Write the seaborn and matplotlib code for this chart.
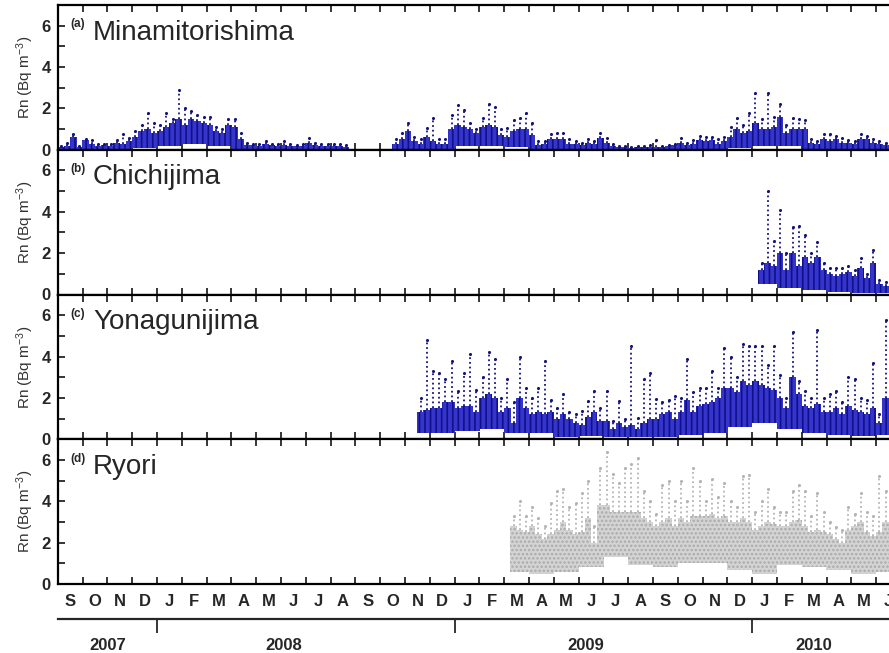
import numpy as np
import pandas as pd
import matplotlib
matplotlib.use("Agg")
import matplotlib.pyplot as plt
import seaborn as sns

nan = np.nan

# x axis: months since Sep 2007 (0 = Sep 2007)
month_letters = list("SONDJFMAMJJASONDJFMAMJJASONDJFMAMJ")
year_labels = ["2007", "2008", "2009", "2010"]
year_breaks = [4, 16, 28]

# Each station: first month index, quarter-month values of the dense band top (hi)
# and the highest scattered points (peak), plus monthly band bottom (lo). Bq m-3
mina_start = 0
mina_hi = [0.15, 0.2, 0.6, 0.15,  0.45, 0.3, 0.2, 0.25,  0.2, 0.35, 0.3, 0.4,  0.6, 0.9, 1.0, 0.8,
           0.9, 1.1, 1.3, 1.5,  1.2, 1.5, 1.4, 1.3,  1.2, 0.9, 0.8, 1.2,  1.1, 0.5, 0.25, 0.25,
           0.2, 0.3, 0.25, 0.2,  0.25, 0.2, 0.2, 0.2,  0.35, 0.25, 0.2, 0.2,  0.2, 0.2, 0.15, nan,
           nan, nan, nan, nan,  nan, nan, 0.3, 0.5,  0.9, 0.4, 0.3, 0.6,  0.4, 0.3, 0.3, 1.0,
           1.2, 1.1, 1.0, 0.8,  1.1, 1.2, 1.1, 0.7,  0.6, 0.9, 1.0, 1.0,  0.7, 0.25, 0.3, 0.5,
           0.5, 0.5, 0.3, 0.3,  0.25, 0.35, 0.3, 0.55,  0.35, 0.2, 0.15, 0.12,  0.1, 0.12, 0.15, 0.15,
           0.15, 0.15, 0.2, 0.25,  0.35, 0.25, 0.3, 0.45,  0.4, 0.45, 0.3, 0.4,  0.6, 1.0, 0.8, 0.9,
           1.3, 1.0, 1.0, 1.1,  1.6, 0.8, 1.0, 1.0,  1.0, 0.35, 0.3, 0.5,  0.4, 0.5, 0.35, 0.35,
           0.3, 0.5, 0.5, 0.35,  0.3, 0.25]
mina_peak = [0.2, 0.35, 0.75, 0.2,  0.5, 0.45, 0.3, 0.3,  0.3, 0.45, 0.75, 0.55,  0.9, 1.2, 1.8, 1.3,
             1.2, 1.8, 1.5, 2.9,  2.0, 1.85, 1.7, 1.6,  1.6, 1.1, 1.0, 1.5,  1.5, 0.8, 0.35, 0.3,
             0.3, 0.4, 0.3, 0.3,  0.4, 0.3, 0.25, 0.3,  0.55, 0.35, 0.3, 0.3,  0.3, 0.3, 0.25, nan,
             nan, nan, nan, nan,  nan, nan, 0.5, 0.8,  1.3, 0.6, 0.5, 1.05,  1.55, 0.5, 0.5, 1.7,
             2.15, 1.9, 1.3, 1.0,  1.55, 2.2, 2.05, 1.0,  1.05, 1.45, 1.55, 1.8,  1.3, 0.4, 0.4, 0.75,
             0.8, 0.8, 0.5, 0.4,  0.35, 0.5, 0.4, 0.8,  0.55, 0.3, 0.2, 0.2,  0.15, 0.2, 0.2, 0.25,
             0.45, 0.2, 0.25, 0.3,  0.55, 0.35, 0.45, 0.65,  0.6, 0.6, 0.5, 0.6,  1.1, 1.55, 1.2, 1.8,
             2.75, 1.5, 2.75, 1.6,  2.2, 1.2, 1.55, 1.5,  1.45, 0.5, 0.4, 0.75,  0.75, 0.65, 0.55, 0.45,
             0.4, 0.75, 0.65, 0.5,  0.4, 0.35]
mina_lo = [0.02, 0.02, 0.03, 0.08, 0.2, 0.3, 0.2, 0.03, 0.02, 0.02, 0.02, 0.02,
           0.02, 0.02, 0.03, 0.03, 0.2, 0.2, 0.15, 0.03, 0.02, 0.02, 0.02, 0.02,
           0.02, 0.02, 0.03, 0.08, 0.2, 0.2, 0.03, 0.03, 0.03, 0.03]

chichi_start = 28
chichi_hi = [nan, 1.2, 1.5, 1.4,  2.0, 1.2, 2.0, 1.4,  1.8, 1.5, 1.8, 1.2,  1.0, 0.9, 1.0, 1.1,
             0.9, 1.3, 0.8, 1.5,  0.5, 0.4]
chichi_peak = [nan, 1.5, 5.0, 2.6,  4.1, 2.0, 3.25, 3.3,  2.9, 2.0, 2.55, 1.5,  1.3, 1.3, 1.3, 1.4,
               1.2, 1.75, 1.0, 2.15,  0.7, 0.6]
chichi_lo = [0.5, 0.3, 0.2, 0.1, 0.05, 0.05]

yona_start = 14
yona_hi = [nan, nan, 1.3, 1.4,  1.5, 1.5, 1.8, 1.8,  1.5, 1.6, 1.6, 1.3,  2.0, 2.2, 2.0, 1.3,
           1.5, 0.8, 2.0, 1.5,  1.2, 1.3, 1.2, 1.3,  1.0, 1.2, 1.0, 0.8,  0.7, 1.1, 1.3, 0.9,
           0.9, 0.5, 0.8, 0.6,  0.7, 0.5, 0.8, 1.0,  1.0, 1.2, 1.3, 1.0,  1.3, 1.9, 1.3, 1.6,
           1.7, 1.8, 2.0, 2.5,  2.5, 2.3, 2.8, 2.6,  2.8, 2.6, 2.5, 2.4,  2.0, 1.5, 3.0, 2.2,
           1.6, 1.5, 1.7, 1.3,  1.3, 1.5, 1.2, 1.6,  1.4, 1.3, 1.2, 1.5,  0.8, 2.0]
yona_peak = [nan, nan, 2.0, 4.8,  3.3, 3.2, 2.9, 3.8,  2.35, 3.2, 4.1, 2.4,  3.0, 4.2, 3.9, 2.0,
             2.9, 1.8, 4.0, 2.5,  2.0, 2.5, 3.8, 1.9,  1.5, 2.2, 1.3, 1.2,  1.35, 1.85, 2.35, 1.5,
             2.35, 0.9, 1.85, 1.0,  4.5, 1.05, 2.9, 3.2,  1.95, 1.8, 1.9, 2.1,  2.0, 3.9, 2.3, 2.5,
             2.5, 3.3, 2.5, 4.4,  4.0, 3.0, 4.6, 4.5,  4.5, 4.5, 3.6, 4.5,  3.1, 2.0, 5.2, 2.8,
             2.35, 2.0, 5.3, 2.0,  2.2, 2.35, 1.8, 3.0,  2.9, 2.0, 1.9, 3.7,  1.2, 5.75]
yona_lo = [0.3, 0.3, 0.4, 0.5, 0.3, 0.3, 0.1, 0.15, 0.1, 0.1,
           0.1, 0.2, 0.3, 0.6, 0.8, 0.5, 0.3, 0.2, 0.15, 0.2]

ryori_start = 18
ryori_hi = [nan, 2.8, 2.6, 2.5,  2.8, 2.4, 2.2, 2.4,  2.6, 3.0, 2.6, 2.4,  2.5, 3.2, 2.0, 3.8,
            3.8, 3.5, 3.5, 3.5,  3.5, 3.5, 3.2, 3.0,  2.8, 3.0, 3.2, 2.8,  3.2, 3.0, 3.3, 3.3,
            3.3, 3.4, 3.2, 3.3,  3.0, 3.0, 3.2, 3.0,  2.6, 2.8, 3.0, 2.9,  2.8, 2.8, 3.0, 3.1,
            2.8, 2.5, 2.6, 2.5,  2.4, 2.2, 2.0, 2.6,  2.8, 3.0, 2.5, 2.3,  2.5, 3.0]
ryori_peak = [nan, 3.3, 4.0, 3.3,  3.7, 3.2, 2.8, 3.9,  4.5, 4.6, 3.7, 3.9,  4.4, 5.0, 2.8, 5.6,
              6.4, 5.3, 4.9, 5.6,  5.8, 6.1, 4.5, 4.0,  3.4, 4.8, 5.0, 4.0,  5.0, 4.0, 5.6, 5.0,
              4.0, 5.1, 4.2, 4.9,  4.0, 3.7, 5.2, 5.25,  3.5, 4.0, 4.6, 3.7,  3.5, 3.5, 4.5, 4.8,
              4.5, 3.3, 4.4, 3.5,  3.0, 2.75, 2.6, 3.7,  3.4, 4.4, 3.5, 3.3,  5.2, 4.5]
ryori_lo = [0.6, 0.5, 0.6, 0.8, 1.3, 0.9, 0.8, 1.0, 1.0, 0.7, 0.5, 0.9, 0.8, 0.7, 0.5, 0.6]

stations = [
    ("(a)", "Minamitorishima", mina_start, mina_lo, mina_hi, mina_peak),
    ("(b)", "Chichijima", chichi_start, chichi_lo, chichi_hi, chichi_peak),
    ("(c)", "Yonagunijima", yona_start, yona_lo, yona_hi, yona_peak),
    ("(d)", "Ryori", ryori_start, ryori_lo, ryori_hi, ryori_peak),
]

sns.set_style("ticks")
plt.rcParams["font.family"] = ["Liberation Sans", "DejaVu Sans"]
plt.rcParams["mathtext.default"] = "regular"
plt.rcParams["hatch.linewidth"] = 1.2

fig = plt.figure(figsize=(8.89, 6.53), dpi=100)

left = 57.8 / 889
width = 0.95
xmax = width * 889 / 24.8
panel_h = (584 - 5) / 4 / 653
bottom0 = (653 - 584) / 653


def draw_station(ax, start, lo, hi, peak, grey):
    hi = np.array(hi, dtype=float)
    peak = np.array(peak, dtype=float)
    n = len(hi)
    x = start + (np.arange(n) + 0.5) / 4
    lo_q = np.repeat(lo, 4)[:n]
    if grey:
        ax.bar(x, hi - lo_q, bottom=lo_q, width=0.26, facecolor="#d4d4d4",
               edgecolor="#ababab", hatch="....", linewidth=0)
        dot_col = "#b4b4b4"
    else:
        ax.bar(x, hi - lo_q, bottom=lo_q, width=0.26, facecolor="#3535cc",
               edgecolor="#10108a", hatch="|||", linewidth=0)
        dot_col = "#14147e"
    ax.vlines(x, hi, peak, colors=dot_col, linestyles=(0, (1, 1.6)), linewidth=1.3)
    df = pd.DataFrame({"x": x, "peak": peak}).dropna()
    sns.scatterplot(data=df, x="x", y="peak", ax=ax, color=dot_col, s=5,
                    linewidth=0, legend=False)


axes = []
for i, (tag, name, start, lo, hi, peak) in enumerate(stations):
    ax = fig.add_axes([left, bottom0 + (3 - i) * panel_h, width, panel_h])
    draw_station(ax, start, lo, hi, peak, grey=(i == 3))
    ax.set_xlim(0, xmax)
    ax.set_ylim(0, 7)
    ax.set_xticks(np.arange(0, 35))
    ax.set_yticks([0, 2, 4, 6])
    ax.set_yticks([1, 3, 5], minor=True)
    ax.set_yticklabels(["0", "2", "4", "6"], fontweight="bold", fontsize=12)
    ax.tick_params(axis="x", which="major", direction="in", top=True, bottom=True,
                   length=5, width=1.3, labelbottom=False)
    ax.tick_params(axis="y", which="both", direction="in", length=5, width=1.3, pad=5)
    ax.set_xlabel("")
    ax.set_ylabel("Rn (Bq m$^{-3}$)", fontsize=11, color="#333333", labelpad=4)
    for s in ax.spines.values():
        s.set_linewidth(1.6)
        s.set_color("black")
    ax.text(0.0144, 0.845, tag, transform=ax.transAxes, fontsize=8.5,
            fontweight="bold", va="baseline")
    ax.text(0.0417, 0.76, name, transform=ax.transAxes, fontsize=20, va="baseline")
    axes.append(ax)

# month letters under the bottom panel
ax = axes[-1]
ax.set_xticks(np.arange(len(month_letters)) + 0.5, minor=True)
ax.set_xticklabels(month_letters, minor=True, fontweight="bold", fontsize=12)
ax.tick_params(axis="x", which="minor", length=0, pad=7, labelbottom=True)

# year bar
ax_yr = fig.add_axes([left, (653 - 619) / 653, width, 0.01])
ax_yr.set_xlim(0, xmax)
ax_yr.patch.set_visible(False)
for k in ["top", "left", "right"]:
    ax_yr.spines[k].set_visible(False)
ax_yr.spines["bottom"].set_linewidth(1.6)
ax_yr.set_yticks([])
ax_yr.set_xticks(year_breaks)
ax_yr.set_xticklabels([])
ax_yr.tick_params(axis="x", which="major", direction="out", length=10, width=1.3)
ax_yr.set_xticks([2.0, 9.1, 21.3, 30.5], minor=True)
ax_yr.set_xticklabels(year_labels, minor=True, fontweight="bold", fontsize=12)
ax_yr.tick_params(axis="x", which="minor", length=0, pad=14)

fig.savefig("out.png", dpi=100)
